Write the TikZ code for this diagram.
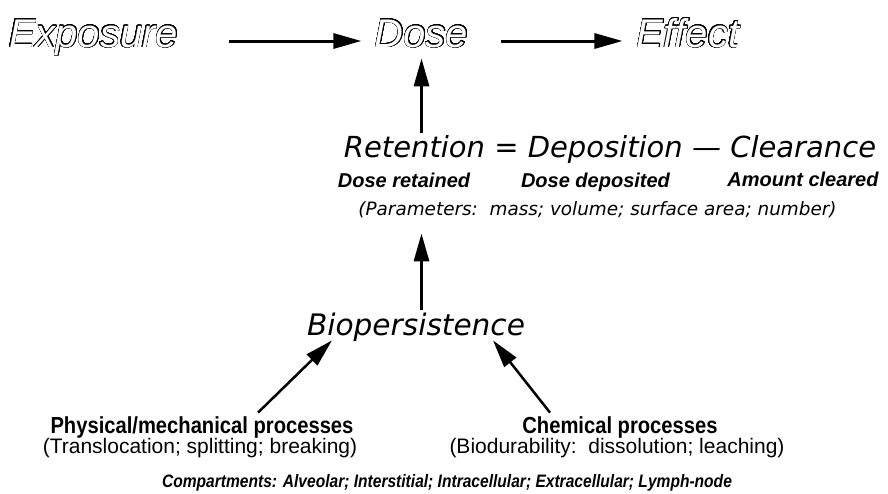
\documentclass[tikz,border=0pt]{standalone}
\usepackage{fontspec}
\setmainfont{Liberation Sans}
\newfontfamily\vera{DejaVu Sans}
\usepackage{graphicx}
\usepackage[copies]{contour}
\contournumber{32}
\usetikzlibrary{arrows.meta}
\tikzset{>={Triangle[length=14pt,width=7.5pt]}}
\tikzset{%
    hollow/.style={inner sep=0pt, anchor=base, text height=10pt, text depth=4pt,
        font=\fontsize{20}{24}\selectfont\itshape},
    obl/.style={inner sep=0pt, anchor=base, font=\vera\itshape\fontsize{#1}{#1}\selectfont},
    heavy/.style={inner sep=0pt, anchor=base, font=\fontsize{#1}{#1}\selectfont\bfseries\itshape},
    plain/.style={inner sep=0pt, anchor=base, font=\fontsize{#1}{#1}\selectfont},
    plainbold/.style={inner sep=0pt, anchor=base, font=\fontsize{#1}{#1}\selectfont\bfseries},
    flow/.style={->, line width=1.5pt}
}
\newcommand{\hollowtext}[1]{{\contourlength{0.28pt}\color{white}\contour{black}{#1}}}
\newcommand{\squeeze}[2]{\scalebox{#1}[1]{#2}}

\begin{document}
\begin{tikzpicture}[x=0.5pt,y=-0.5pt]
    \useasboundingbox (0,0) rectangle (888,493);
    % top row
    \node[hollow] (expo) at (93.5,47) {\hollowtext{Exposure}};
    \node[hollow] (dose) at (421.5,47) {\hollowtext{Dose}};
    \node[hollow] (effect) at (688,47) {\hollowtext{Effect}};
    \draw[flow,shorten <=25.5pt,shorten >=6.5pt] (expo.east) -- (dose.west);
    \draw[flow,shorten <=16pt,shorten >=7pt] (dose.east) -- (effect.west);
    % retention balance
    \node[obl=14.5, text height=12pt] (reten) at (610,157) {Retention = Deposition — Clearance};
    \node[heavy=10] (dret) at (404,187) {Dose retained};
    \node[heavy=10] (ddep) at (595.5,187) {Dose deposited};
    \node[heavy=10] (acl) at (803,186) {Amount cleared};
    \node[obl=9.2, text depth=4pt] (params) at (597.5,215) {(Parameters:\ \ mass; volume; surface area; number)};
    \draw[flow,shorten >=1.5pt] (reten.north -| dose.south) -- (dose.south);
    \node[obl=14.8, text height=12.5pt, text depth=2.5pt] (bio) at (416,335) {Biopersistence};
    \draw[flow,shorten >=5pt] (bio.north -| dose.south) -- (params.south -| dose.south);
    % processes
    \node[plainbold=11.6, text height=10pt] (phys) at (202,433) {\squeeze{0.87}{Physical/mechanical processes}};
    \node[plain=10.5] (transl) at (200,453) {(Translocation; splitting; breaking)};
    \node[plainbold=11.6, text height=10pt] (chem) at (620,433) {\squeeze{0.87}{Chemical processes}};
    \node[plain=10.5] (biod) at (617,453) {(Biodurability:\ \ dissolution; leaching)};
    \node[heavy=9] (compart) at (447,487) {\squeeze{0.865}{Compartments: Alveolar; Interstitial; Intracellular; Extracellular; Lymph-node}};
    \draw[flow,line width=1.25pt] ([xshift=28pt]phys.north) -- ([xshift=-42pt]bio.south);
    \draw[flow,line width=1.25pt] ([xshift=-35pt]chem.north) -- ([xshift=38.5pt]bio.south);
\end{tikzpicture}
\end{document}
